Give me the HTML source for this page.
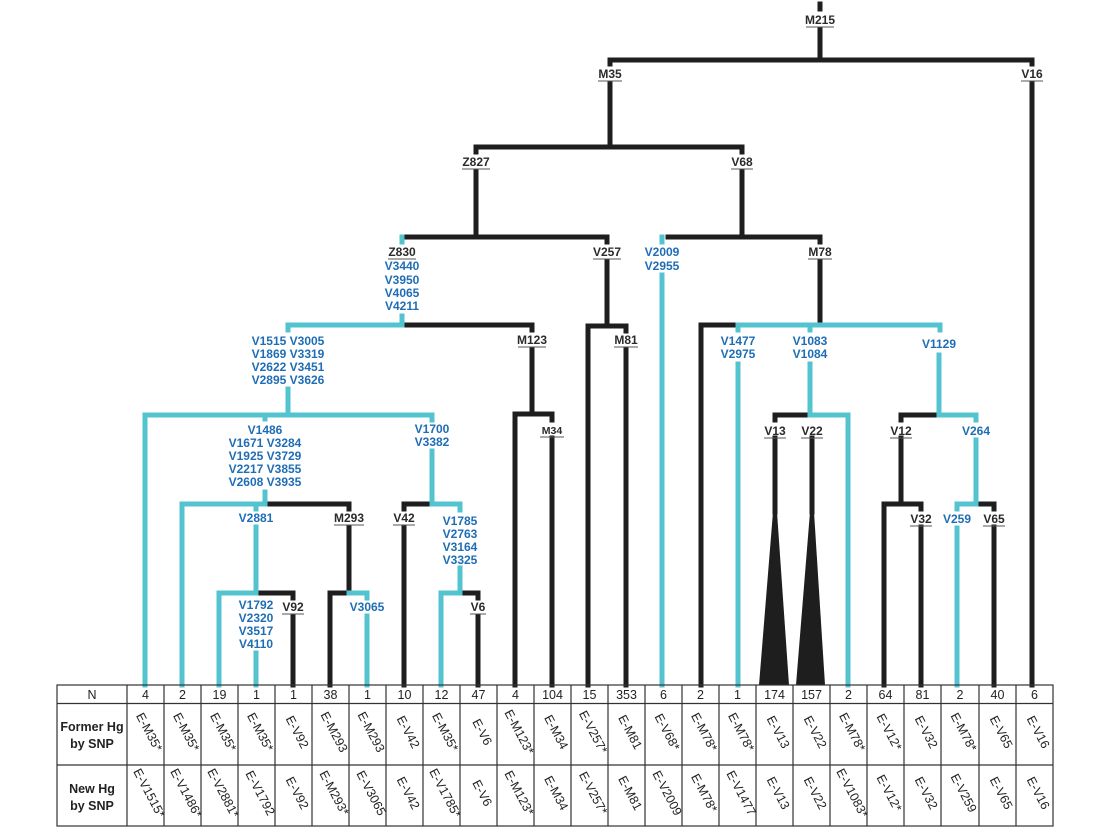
<!DOCTYPE html>
<html><head><meta charset="utf-8"><style>
html,body{margin:0;padding:0;background:#fff;}
svg{display:block;}
text{font-family:"Liberation Sans",sans-serif;font-weight:bold;}
.k text{fill:#2a2a2a;font-size:12px;}
.b text{fill:#1f6db5;font-size:12px;}
.t text{fill:#222;font-size:12.5px;font-weight:normal;}
.h text{fill:#222;font-size:12.5px;}
</style></head><body>
<svg width="1096" height="836" viewBox="0 0 1096 836" xmlns="http://www.w3.org/2000/svg">
<rect width="1096" height="836" fill="#fff"/>
<g stroke="#1e1e1e" stroke-width="5" fill="none" stroke-linecap="square">
<line x1="820" y1="4" x2="820" y2="9"/>
<line x1="820" y1="30" x2="820" y2="60"/>
<line x1="610" y1="60" x2="1032" y2="60"/>
<line x1="610" y1="60" x2="610" y2="64"/>
<line x1="1032" y1="60" x2="1032" y2="64"/>
<line x1="1032" y1="83" x2="1032" y2="685"/>
<line x1="610" y1="83" x2="610" y2="147"/>
<line x1="476" y1="147" x2="742" y2="147"/>
<line x1="476" y1="147" x2="476" y2="152"/>
<line x1="742" y1="147" x2="742" y2="152"/>
<line x1="476" y1="171" x2="476" y2="237"/>
<line x1="742" y1="171" x2="742" y2="237"/>
<line x1="402" y1="237" x2="607" y2="237"/>
<line x1="668" y1="237" x2="820" y2="237"/>
<line x1="607" y1="237" x2="607" y2="242"/>
<line x1="820" y1="237" x2="820" y2="242"/>
<line x1="607" y1="261" x2="607" y2="326"/>
<line x1="588" y1="326" x2="626" y2="326"/>
<line x1="588" y1="326" x2="588" y2="685"/>
<line x1="626" y1="326" x2="626" y2="331"/>
<line x1="626" y1="349" x2="626" y2="685"/>
<line x1="820" y1="261" x2="820" y2="325"/>
<line x1="701" y1="325" x2="736" y2="325"/>
<line x1="701" y1="325" x2="701" y2="685"/>
<line x1="404" y1="325" x2="532" y2="325"/>
<line x1="532" y1="325" x2="532" y2="330"/>
<line x1="532" y1="349" x2="532" y2="414"/>
<line x1="515" y1="414" x2="552" y2="414"/>
<line x1="515" y1="414" x2="515" y2="685"/>
<line x1="552" y1="414" x2="552" y2="420"/>
<line x1="552" y1="438" x2="552" y2="685"/>
<line x1="267" y1="504" x2="349" y2="504"/>
<line x1="349" y1="504" x2="349" y2="509"/>
<line x1="349" y1="527" x2="349" y2="593"/>
<line x1="330" y1="593" x2="349" y2="593"/>
<line x1="330" y1="593" x2="330" y2="685"/>
<line x1="258" y1="593" x2="293" y2="593"/>
<line x1="293" y1="593" x2="293" y2="598"/>
<line x1="293" y1="616" x2="293" y2="685"/>
<line x1="404" y1="504" x2="430" y2="504"/>
<line x1="404" y1="504" x2="404" y2="509"/>
<line x1="404" y1="527" x2="404" y2="685"/>
<line x1="462" y1="593" x2="478" y2="593"/>
<line x1="478" y1="593" x2="478" y2="598"/>
<line x1="478" y1="616" x2="478" y2="685"/>
<line x1="775" y1="415" x2="808" y2="415"/>
<line x1="775" y1="415" x2="775" y2="420"/>
<line x1="812" y1="438" x2="812" y2="512"/>
<line x1="775" y1="438" x2="775" y2="512"/>
<line x1="901" y1="415" x2="937" y2="415"/>
<line x1="901" y1="415" x2="901" y2="420"/>
<line x1="901" y1="438" x2="901" y2="504"/>
<line x1="884" y1="504" x2="921" y2="504"/>
<line x1="884" y1="504" x2="884" y2="685"/>
<line x1="921" y1="504" x2="921" y2="509"/>
<line x1="921" y1="527" x2="921" y2="685"/>
<line x1="978" y1="504" x2="994" y2="504"/>
<line x1="994" y1="504" x2="994" y2="509"/>
<line x1="994" y1="527" x2="994" y2="685"/>
</g>
<polygon points="773,512 777,512 789,685 759,685" fill="#1e1e1e"/>
<polygon points="810,512 814,512 825,685 796,685" fill="#1e1e1e"/>
<g stroke="#52c3cf" stroke-width="5" fill="none" stroke-linecap="square">
<line x1="402" y1="237" x2="402" y2="242"/>
<line x1="402" y1="316" x2="402" y2="325"/>
<line x1="288" y1="325" x2="402" y2="325"/>
<line x1="288" y1="325" x2="288" y2="330"/>
<line x1="288" y1="389" x2="288" y2="415"/>
<line x1="145" y1="415" x2="432" y2="415"/>
<line x1="145" y1="415" x2="145" y2="685"/>
<line x1="265" y1="415" x2="265" y2="419"/>
<line x1="432" y1="415" x2="432" y2="420"/>
<line x1="265" y1="492" x2="265" y2="504"/>
<line x1="182" y1="504" x2="265" y2="504"/>
<line x1="182" y1="504" x2="182" y2="685"/>
<line x1="256" y1="504" x2="256" y2="509"/>
<line x1="256" y1="527" x2="256" y2="593"/>
<line x1="219" y1="593" x2="256" y2="593"/>
<line x1="219" y1="593" x2="219" y2="685"/>
<line x1="256" y1="653" x2="256" y2="685"/>
<line x1="349" y1="593" x2="367" y2="593"/>
<line x1="367" y1="593" x2="367" y2="598"/>
<line x1="367" y1="616" x2="367" y2="685"/>
<line x1="432" y1="451" x2="432" y2="504"/>
<line x1="432" y1="504" x2="460" y2="504"/>
<line x1="460" y1="504" x2="460" y2="510"/>
<line x1="460" y1="568" x2="460" y2="593"/>
<line x1="441" y1="593" x2="460" y2="593"/>
<line x1="441" y1="593" x2="441" y2="685"/>
<line x1="662" y1="237" x2="662" y2="242"/>
<line x1="662" y1="275" x2="662" y2="685"/>
<line x1="738" y1="325" x2="940" y2="325"/>
<line x1="738" y1="325" x2="738" y2="330"/>
<line x1="810" y1="325" x2="810" y2="330"/>
<line x1="940" y1="325" x2="940" y2="330"/>
<line x1="738" y1="364" x2="738" y2="685"/>
<line x1="810" y1="364" x2="810" y2="415"/>
<line x1="810" y1="415" x2="848" y2="415"/>
<line x1="848" y1="415" x2="848" y2="685"/>
<line x1="939" y1="355" x2="939" y2="415"/>
<line x1="939" y1="415" x2="976" y2="415"/>
<line x1="976" y1="415" x2="976" y2="420"/>
<line x1="976" y1="440" x2="976" y2="504"/>
<line x1="957" y1="504" x2="976" y2="504"/>
<line x1="957" y1="504" x2="957" y2="509"/>
<line x1="957" y1="528" x2="957" y2="685"/>
</g>
<g class="k" text-anchor="middle">
<text x="820" y="24">M215</text>
<text x="610" y="78">M35</text>
<text x="1032" y="78">V16</text>
<text x="476" y="166">Z827</text>
<text x="742" y="166">V68</text>
<text x="402" y="256">Z830</text>
<text x="607" y="256">V257</text>
<text x="820" y="256">M78</text>
<text x="532" y="344">M123</text>
<text x="626" y="344">M81</text>
<text x="552" y="434" style="font-size:10.5px">M34</text>
<text x="349" y="522">M293</text>
<text x="404" y="522">V42</text>
<text x="293" y="611">V92</text>
<text x="478" y="611">V6</text>
<text x="775" y="435">V13</text>
<text x="812" y="435">V22</text>
<text x="901" y="435">V12</text>
<text x="921" y="523">V32</text>
<text x="994" y="523">V65</text>
</g>
<g stroke="#555" stroke-width="1">
<line x1="806" y1="27" x2="834" y2="27"/>
<line x1="598" y1="81" x2="622" y2="81"/>
<line x1="1021" y1="81" x2="1043" y2="81"/>
<line x1="462" y1="169" x2="490" y2="169"/>
<line x1="731" y1="169" x2="753" y2="169"/>
<line x1="388" y1="259" x2="416" y2="259"/>
<line x1="593" y1="259" x2="621" y2="259"/>
<line x1="808" y1="259" x2="832" y2="259"/>
<line x1="518" y1="347" x2="546" y2="347"/>
<line x1="614" y1="347" x2="638" y2="347"/>
<line x1="540" y1="437" x2="564" y2="437"/>
<line x1="334" y1="525" x2="364" y2="525"/>
<line x1="393" y1="525" x2="415" y2="525"/>
<line x1="282" y1="614" x2="304" y2="614"/>
<line x1="470" y1="614" x2="486" y2="614"/>
<line x1="764" y1="438" x2="786" y2="438"/>
<line x1="801" y1="438" x2="823" y2="438"/>
<line x1="890" y1="438" x2="912" y2="438"/>
<line x1="910" y1="526" x2="932" y2="526"/>
<line x1="983" y1="526" x2="1005" y2="526"/>
</g>
<g class="b" text-anchor="middle">
<text x="402" y="270">V3440</text><text x="402" y="284">V3950</text><text x="402" y="297">V4065</text><text x="402" y="310">V4211</text>
<text x="288" y="345">V1515 V3005</text><text x="288" y="358">V1869 V3319</text><text x="288" y="371">V2622 V3451</text><text x="288" y="384">V2895 V3626</text>
<text x="265" y="434">V1486</text><text x="265" y="447">V1671 V3284</text><text x="265" y="460">V1925 V3729</text><text x="265" y="473">V2217 V3855</text><text x="265" y="486">V2608 V3935</text>
<text x="432" y="433">V1700</text><text x="432" y="446">V3382</text>
<text x="256" y="522">V2881</text>
<text x="460" y="525">V1785</text><text x="460" y="538">V2763</text><text x="460" y="551">V3164</text><text x="460" y="564">V3325</text>
<text x="256" y="609">V1792</text><text x="256" y="622">V2320</text><text x="256" y="635">V3517</text><text x="256" y="648">V4110</text>
<text x="367" y="611">V3065</text>
<text x="662" y="256">V2009</text><text x="662" y="270">V2955</text>
<text x="738" y="345">V1477</text><text x="738" y="358">V2975</text>
<text x="810" y="345">V1083</text><text x="810" y="358">V1084</text>
<text x="939" y="348">V1129</text>
<text x="976" y="435">V264</text>
<text x="957" y="523">V259</text>
</g>
<g stroke="#333" stroke-width="1.2" fill="none">
<rect x="57" y="685" width="996" height="141"/>
<line x1="57" y1="703.5" x2="1053" y2="703.5"/>
<line x1="57" y1="765" x2="1053" y2="765"/>
<line x1="127" y1="685" x2="127" y2="826"/>
<line x1="164" y1="685" x2="164" y2="826"/><line x1="201" y1="685" x2="201" y2="826"/><line x1="238" y1="685" x2="238" y2="826"/><line x1="275" y1="685" x2="275" y2="826"/><line x1="312" y1="685" x2="312" y2="826"/><line x1="349" y1="685" x2="349" y2="826"/><line x1="386" y1="685" x2="386" y2="826"/><line x1="423" y1="685" x2="423" y2="826"/><line x1="460" y1="685" x2="460" y2="826"/><line x1="497" y1="685" x2="497" y2="826"/><line x1="534" y1="685" x2="534" y2="826"/><line x1="571" y1="685" x2="571" y2="826"/><line x1="608" y1="685" x2="608" y2="826"/><line x1="645" y1="685" x2="645" y2="826"/><line x1="682" y1="685" x2="682" y2="826"/><line x1="719" y1="685" x2="719" y2="826"/><line x1="756" y1="685" x2="756" y2="826"/><line x1="793" y1="685" x2="793" y2="826"/><line x1="830" y1="685" x2="830" y2="826"/><line x1="867" y1="685" x2="867" y2="826"/><line x1="904" y1="685" x2="904" y2="826"/><line x1="941" y1="685" x2="941" y2="826"/><line x1="979" y1="685" x2="979" y2="826"/><line x1="1016" y1="685" x2="1016" y2="826"/>
</g>
<g class="h" text-anchor="middle">
<text x="92" y="699" style="font-weight:normal">N</text>
<text x="92" y="731">Former Hg</text><text x="92" y="748">by SNP</text>
<text x="92" y="793">New Hg</text><text x="92" y="810">by SNP</text>
</g>
<g class="t" text-anchor="middle">
<text x="145.5" y="699">4</text><text x="182.5" y="699">2</text><text x="219.5" y="699">19</text><text x="256.5" y="699">1</text><text x="293.5" y="699">1</text><text x="330.5" y="699">38</text><text x="367.5" y="699">1</text><text x="404.5" y="699">10</text><text x="441.5" y="699">12</text><text x="478.5" y="699">47</text><text x="515.5" y="699">4</text><text x="552.5" y="699">104</text><text x="589.5" y="699">15</text><text x="626.5" y="699">353</text><text x="663.5" y="699">6</text><text x="700.5" y="699">2</text><text x="737.5" y="699">1</text><text x="774.5" y="699">174</text><text x="811.5" y="699">157</text><text x="848.5" y="699">2</text><text x="885.5" y="699">64</text><text x="922.5" y="699">81</text><text x="960" y="699">2</text><text x="997.5" y="699">40</text><text x="1034.5" y="699">6</text>
</g>
<g class="t" text-anchor="middle">
<text transform="translate(145.5,734) rotate(62)">E-M35*</text>
<text transform="translate(182.5,734) rotate(62)">E-M35*</text>
<text transform="translate(219.5,734) rotate(62)">E-M35*</text>
<text transform="translate(256.5,734) rotate(62)">E-M35*</text>
<text transform="translate(293.5,734) rotate(62)">E-V92</text>
<text transform="translate(330.5,734) rotate(62)">E-M293</text>
<text transform="translate(367.5,734) rotate(62)">E-M293</text>
<text transform="translate(404.5,734) rotate(62)">E-V42</text>
<text transform="translate(441.5,734) rotate(62)">E-M35*</text>
<text transform="translate(478.5,734) rotate(62)">E-V6</text>
<text transform="translate(515.5,734) rotate(62)">E-M123*</text>
<text transform="translate(552.5,734) rotate(62)">E-M34</text>
<text transform="translate(589.5,734) rotate(62)">E-V257*</text>
<text transform="translate(626.5,734) rotate(62)">E-M81</text>
<text transform="translate(663.5,734) rotate(62)">E-V68*</text>
<text transform="translate(700.5,734) rotate(62)">E-M78*</text>
<text transform="translate(737.5,734) rotate(62)">E-M78*</text>
<text transform="translate(774.5,734) rotate(62)">E-V13</text>
<text transform="translate(811.5,734) rotate(62)">E-V22</text>
<text transform="translate(848.5,734) rotate(62)">E-M78*</text>
<text transform="translate(885.5,734) rotate(62)">E-V12*</text>
<text transform="translate(922.5,734) rotate(62)">E-V32</text>
<text transform="translate(960,734) rotate(62)">E-M78*</text>
<text transform="translate(997.5,734) rotate(62)">E-V65</text>
<text transform="translate(1034.5,734) rotate(62)">E-V16</text>
<text transform="translate(145.5,795) rotate(62)">E-V1515*</text>
<text transform="translate(182.5,795) rotate(62)">E-V1486*</text>
<text transform="translate(219.5,795) rotate(62)">E-V2881*</text>
<text transform="translate(256.5,795) rotate(62)">E-V1792</text>
<text transform="translate(293.5,795) rotate(62)">E-V92</text>
<text transform="translate(330.5,795) rotate(62)">E-M293*</text>
<text transform="translate(367.5,795) rotate(62)">E-V3065</text>
<text transform="translate(404.5,795) rotate(62)">E-V42</text>
<text transform="translate(441.5,795) rotate(62)">E-V1785*</text>
<text transform="translate(478.5,795) rotate(62)">E-V6</text>
<text transform="translate(515.5,795) rotate(62)">E-M123*</text>
<text transform="translate(552.5,795) rotate(62)">E-M34</text>
<text transform="translate(589.5,795) rotate(62)">E-V257*</text>
<text transform="translate(626.5,795) rotate(62)">E-M81</text>
<text transform="translate(663.5,795) rotate(62)">E-V2009</text>
<text transform="translate(700.5,795) rotate(62)">E-M78*</text>
<text transform="translate(737.5,795) rotate(62)">E-V1477</text>
<text transform="translate(774.5,795) rotate(62)">E-V13</text>
<text transform="translate(811.5,795) rotate(62)">E-V22</text>
<text transform="translate(848.5,795) rotate(62)">E-V1083*</text>
<text transform="translate(885.5,795) rotate(62)">E-V12*</text>
<text transform="translate(922.5,795) rotate(62)">E-V32</text>
<text transform="translate(960,795) rotate(62)">E-V259</text>
<text transform="translate(997.5,795) rotate(62)">E-V65</text>
<text transform="translate(1034.5,795) rotate(62)">E-V16</text>
</g>
</svg>
</body></html>
